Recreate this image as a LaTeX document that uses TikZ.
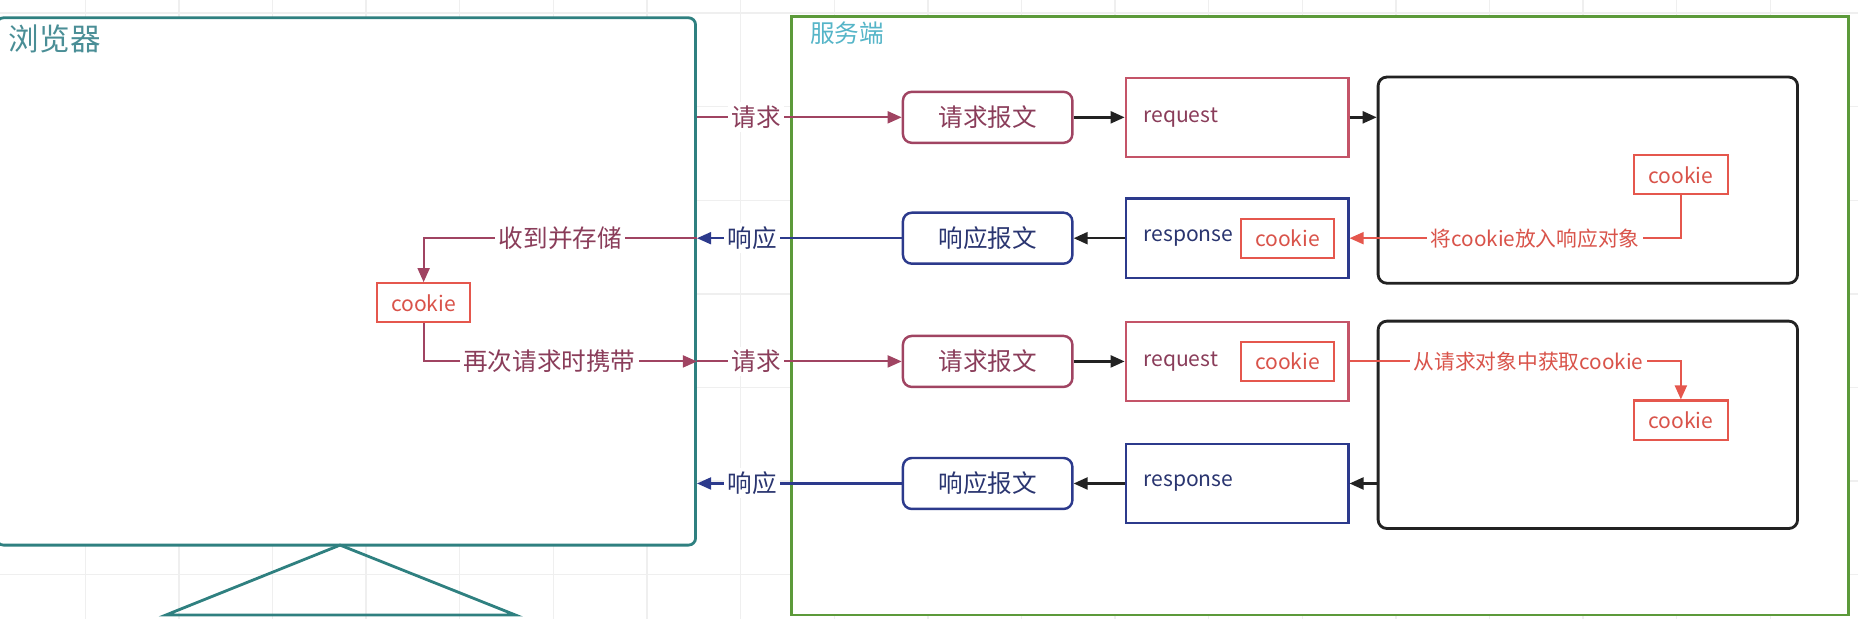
\documentclass[tikz,border=0pt]{standalone}
\usepackage{fontspec}
\setmainfont{Noto Sans CJK SC}
\usetikzlibrary{arrows.meta, positioning, fit}

\definecolor{browsercol}{HTML}{2F8080}
\definecolor{browsertxt}{HTML}{4A8E96}
\definecolor{servercol}{HTML}{5C9A3A}
\definecolor{servertxt}{HTML}{55B5C8}
\definecolor{reqcol}{HTML}{A04462}
\definecolor{reqtxt}{HTML}{8A3D5A}
\definecolor{reqobj}{HTML}{C45468}
\definecolor{respcol}{HTML}{2C3A8C}
\definecolor{resptxt}{HTML}{2A3570}
\definecolor{cookiecol}{HTML}{E5574D}
\definecolor{cookietxt}{HTML}{D9534A}
\definecolor{objcol}{HTML}{222222}
\definecolor{gridcol}{HTML}{EFEFEF}

\newcommand{\fsHead}{\fontsize{8.7pt}{10pt}\selectfont}
\newcommand{\fsMsg}{\fontsize{7pt}{8pt}\selectfont}
\newcommand{\fsSmall}{\fontsize{5.9pt}{7pt}\selectfont}
\newcommand{\fsObj}{\fontsize{6pt}{7pt}\selectfont}

\begin{document}
\begin{tikzpicture}[x=0.01185cm, y=-0.01185cm,
    box/.style={draw, line width=0.7pt, fill=white, inner sep=0pt},
    msgbox/.style={box, rounded corners=2.5pt, minimum width=143*0.01185cm,
        minimum height=43*0.01185cm, font=\fsMsg},
    objbox/.style={box, line width=0.6pt, minimum width=188*0.01185cm,
        minimum height=67*0.01185cm, text width=158*0.01185cm, align=left, font=\fsObj},
    cookiebox/.style={box, line width=0.6pt, draw=cookiecol, text=cookietxt,
        minimum width=79*0.01185cm, minimum height=33*0.01185cm, font=\fsObj},
    appbox/.style={draw=objcol, line width=0.8pt, rounded corners=2.5pt, inner sep=0pt},
    lbl/.style={fill=white, inner sep=1pt, font=\fsMsg},
    note/.style={fill=white, inner sep=1pt, font=\fsSmall, text=cookietxt},
    tipped/.style={-{Triangle[length=4pt,width=3.4pt]}},
    reqline/.style={tipped, draw=reqcol, line width=0.6pt},
    respline/.style={tipped, draw=respcol, line width=0.6pt},
    objline/.style={tipped, draw=objcol, line width=0.7pt},
    cookieline/.style={tipped, draw=cookiecol, line width=0.6pt},
]
    \useasboundingbox (0,0) rectangle (1568,522);
    % Background grid
    \foreach \gx in {-7,72,...,1568} \draw[gridcol, line width=0.4pt] (\gx,0) -- (\gx,522);
    \foreach \gy in {11,90,...,522} \draw[gridcol, line width=0.4pt] (0,\gy) -- (1568,\gy);

    % Browser (screen and stand)
    \node[fit={(-3,15) (587,460)}, inner sep=0pt, draw=browsercol, line width=0.8pt,
        fill=white, rounded corners=2pt] (browser) {};
    \node[anchor=west, text=browsertxt, font=\fsHead, inner sep=0pt] (browsertitle) at (7,33) {浏览器};
    \draw[browsercol, line width=0.8pt] (287,460) -- (140,519) -- (435,519) -- cycle;

    % Server
    \node[fit={(668,14) (1560,519)}, inner sep=0pt, draw=servercol, line width=0.8pt,
        fill=white] (server) {};
    \node[anchor=west, text=servertxt, font=\fsMsg, inner sep=0pt] (servertitle) at (683,28) {服务端};

    % First request / response
    \node[msgbox, draw=reqcol, text=reqtxt] (reqmsgA) at (833.5,99) {请求报文};
    \node[objbox, draw=reqobj, text=reqtxt] (reqA) at (1044,99) {request};
    \node[appbox, fit={(1163,65) (1517,239)}] (appA) {};
    \node[cookiebox] (ckA) at (1418.5,147.5) {cookie};
    \node[msgbox, draw=respcol, text=resptxt] (respmsgA) at (833.5,201) {响应报文};
    \node[objbox, draw=respcol, text=resptxt] (respA) at (1044,201) {response};
    \node[cookiebox] (ckrespA) at (1086.5,201) {cookie};

    % Stored cookie in the browser
    \node[cookiebox] (ckB) at (357.5,255.5) {cookie};

    % Second request / response
    \node[msgbox, draw=reqcol, text=reqtxt] (reqmsgB) at (833.5,305) {请求报文};
    \node[objbox, draw=reqobj, text=reqtxt] (reqB) at (1044,305) {request};
    \node[cookiebox] (ckreqB) at (1086.5,305) {cookie};
    \node[appbox, fit={(1163,271) (1517,446)}] (appB) {};
    \node[cookiebox] (ckC) at (1418.5,354.5) {cookie};
    \node[msgbox, draw=respcol, text=resptxt] (respmsgB) at (833.5,408) {响应报文};
    \node[objbox, draw=respcol, text=resptxt] (respB) at (1044,408) {response};

    % Connectors
    \draw[reqline] (browser.east |- reqmsgA.west) -- node[lbl, text=reqtxt, pos=0.29] {请求} (reqmsgA.west);
    \draw[objline] (reqmsgA) -- (reqA);
    \draw[objline] (reqA) -- (appA.west |- reqA.east);
    \draw[cookieline] (ckA) |- node[note, pos=0.72] {将cookie放入响应对象} (respA.east);
    \draw[objline] (respA) -- (respmsgA);
    \draw[respline] (respmsgA) -- node[lbl, text=resptxt, pos=0.73] {响应} (browser.east |- respmsgA.west);
    \draw[reqline] (browser.east |- respmsgA.west) -- node[lbl, text=reqtxt] {收到并存储} (ckB |- respmsgA.west) -- (ckB);
    \draw[reqline] (ckB) |- node[lbl, text=reqtxt, pos=0.73] {再次请求时携带} (browser.east |- reqmsgB.west);
    \draw[reqline] (browser.east |- reqmsgB.west) -- node[lbl, text=reqtxt, pos=0.29] {请求} (reqmsgB.west);
    \draw[objline] (reqmsgB) -- (reqB);
    \draw[cookieline] (reqB.east) -| node[note, pos=0.27] {从请求对象中获取cookie} (ckC);
    \draw[objline] (appB.west |- respB.east) -- (respB.east);
    \draw[objline] (respB) -- (respmsgB);
    \draw[respline] (respmsgB) -- node[lbl, text=resptxt, pos=0.73] {响应} (browser.east |- respmsgB.west);
\end{tikzpicture}
\end{document}
